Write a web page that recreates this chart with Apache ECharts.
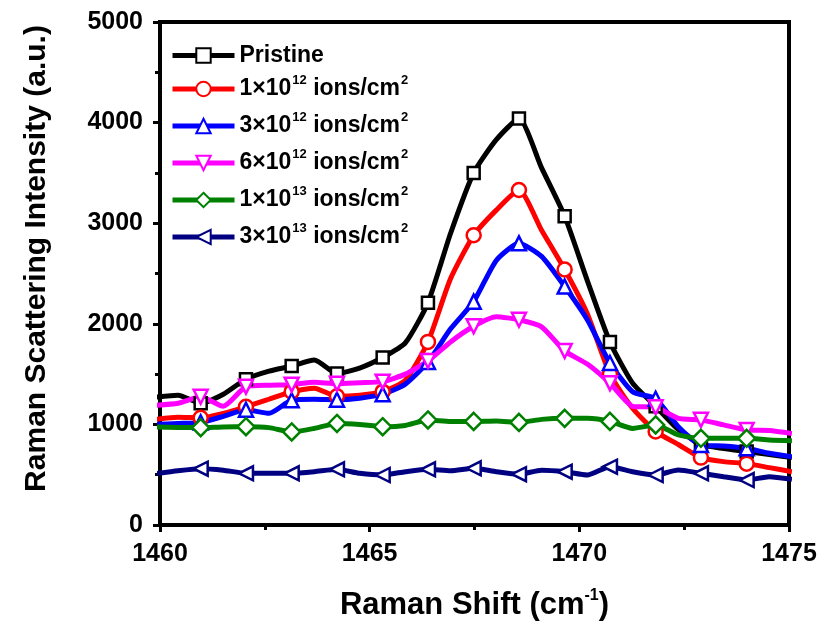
<!DOCTYPE html>
<html>
<head>
<meta charset="utf-8">
<script src="https://cdn.jsdelivr.net/npm/echarts@6/dist/echarts.min.js"></script>
<style>
html,body{margin:0;padding:0;background:#fff;}
#chart{width:827px;height:634px;}
</style>
</head>
<body>
<div id="chart"></div>
<script>
// Raman shift positions (cm^-1)
var shifts = [1459.89,1460.43,1460.97,1461.51,1462.05,1462.60,1463.14,1463.68,1464.22,1464.76,
  1465.31,1465.85,1466.39,1466.93,1467.48,1468.02,1468.56,1469.10,1469.65,1470.19,
  1470.73,1471.27,1471.82,1472.36,1472.90,1473.44,1473.99,1474.53,1475.07];

var pristine = [1270,1290,1210,1300,1450,1530,1580,1640,1505,1560,
  1665,1810,2210,2900,3500,3830,4040,3550,3070,2430,
  1820,1410,1180,950,800,760,730,700,670];
var dose1e12 = [1050,1070,1065,1110,1175,1250,1325,1360,1280,1290,
  1325,1440,1820,2450,2880,3130,3330,2930,2540,2100,
  1500,1160,930,800,670,630,610,570,530];
var dose3e12 = [1000,1010,1020,1080,1145,1110,1240,1250,1245,1260,
  1300,1400,1620,1950,2220,2630,2800,2670,2370,2040,
  1610,1325,1255,977,795,785,762,713,679];
var dose6e12 = [1190,1210,1275,1180,1375,1390,1395,1420,1405,1415,
  1425,1500,1630,1820,1975,2070,2040,1970,1730,1600,
  1410,1180,1170,1060,1045,995,945,940,910];
var dose1e13 = [975,970,968,975,977,968,925,960,1010,1000,
  977,990,1044,1030,1030,1035,1020,1050,1060,1060,
  1030,960,995,895,862,862,862,845,838];
var dose3e13 = [510,540,560,545,514,514,514,530,554,514,
  497,530,554,540,564,530,505,545,530,497,
  580,530,497,547,514,480,447,480,454];

var seriesNames = ['Pristine','1×10^12','3×10^12','6×10^12','1×10^13','3×10^13'];
var xTicks = [1460,1465,1470,1475];
var yTicks = [0,1000,2000,3000,4000,5000];

var seriesData = [pristine,dose1e12,dose3e12,dose6e12,dose1e13,dose3e13];
var colors = ['#000000','#ff0000','#0000ff','#ff00ff','#008000','#000080'];
var symbols = ['rect','circle','triangle','path://M0,0 L10,0 L5,10 Z','diamond','path://M0,5 L10,0 L10,10 Z'];
var symSizes = [12,14,14,14,17,14];
var FONT = '"Liberation Sans", Arial, sans-serif';

function buildData(vals){
  return vals.map(function(v,i){
    var item = {value:[shifts[i], v]};
    if (i < 2 || i % 2 === 1) item.symbol = 'none';
    return item;
  });
}

var series = seriesData.map(function(vals,k){
  return {
    name: seriesNames[k],
    type: 'line',
    data: buildData(vals),
    smooth: 0.2,
    clip: true,
    symbol: symbols[k],
    symbolSize: symSizes[k],
    showAllSymbol: true,
    color: colors[k],
    lineStyle: {color: colors[k], width: 5},
    itemStyle: {color: '#ffffff', borderColor: colors[k], borderWidth: 2.5},
    emphasis: {disabled: true},
    animation: false
  };
});

var chart = echarts.init(document.getElementById('chart'), null, {renderer:'canvas'});
chart.setOption({
  backgroundColor: '#ffffff',
  animation: false,
  grid: {left:160, right:38, top:22, bottom:109, show:true, borderColor:'#000', borderWidth:4, backgroundColor:'transparent'},
  legend: {
    orient: 'vertical',
    left: 165,
    top: 39,
    itemWidth: 62,
    itemHeight: 18,
    itemGap: 7,
    data: seriesNames,
    lineStyle: {width: 5},
    formatter: function(name){
      if (name === 'Pristine') return '{n|Pristine}';
      var parts = name.split('^');
      return '{n|' + parts[0] + '}{s|' + parts[1] + '}{n| ions/cm}{s|2}';
    },
    textStyle: {
      fontFamily: FONT, fontWeight:'bold', color:'#000', fontSize: 23,
      rich: {
        n: {fontFamily: FONT, fontWeight:'bold', fontSize: 23, color:'#000', lineHeight: 18},
        s: {fontFamily: FONT, fontWeight:'bold', fontSize: 13, color:'#000', lineHeight: 18, padding:[0,0,17,1]}
      }
    }
  },
  xAxis: {
    type: 'value',
    min: xTicks[0], max: xTicks[xTicks.length-1], interval: 5,
    name: '{a|Raman Shift (cm}{s|-1}{a|)}',
    nameLocation: 'middle',
    nameGap: 63,
    nameTextStyle: {
      rich: {
        a: {fontFamily: FONT, fontWeight:'bold', fontSize: 31, color:'#000'},
        s: {fontFamily: FONT, fontWeight:'bold', fontSize: 16, color:'#000', padding:[0,0,18,0]}
      }
    },
    axisLine: {show:true, lineStyle:{color:'#000', width:4}},
    axisTick: {show:true, length:7, lineStyle:{color:'#000', width:3}},
    minorTick: {show:true, splitNumber:2, length:5, lineStyle:{color:'#000', width:3}},
    axisLabel: {fontFamily: FONT, fontWeight:'bold', fontSize: 25, color:'#000', margin: 17,
      formatter: function(v){ return String(v); }},
    splitLine: {show:false}
  },
  yAxis: {
    type: 'value',
    min: yTicks[0], max: yTicks[yTicks.length-1], interval: 1000,
    name: 'Raman Scattering Intensity (a.u.)',
    nameLocation: 'middle',
    nameGap: 108,
    nameTextStyle: {fontFamily: FONT, fontWeight:'bold', fontSize: 30, color:'#000', padding:[0,0,0,30]},
    axisLine: {show:true, lineStyle:{color:'#000', width:4}},
    axisTick: {show:true, length:7, lineStyle:{color:'#000', width:3}},
    minorTick: {show:true, splitNumber:2, length:5, lineStyle:{color:'#000', width:3}},
    axisLabel: {fontFamily: FONT, fontWeight:'bold', fontSize: 25, color:'#000', margin: 17,
      formatter: function(v){ return String(v); }},
    splitLine: {show:false}
  },
  series: series
});
</script>
</body>
</html>
